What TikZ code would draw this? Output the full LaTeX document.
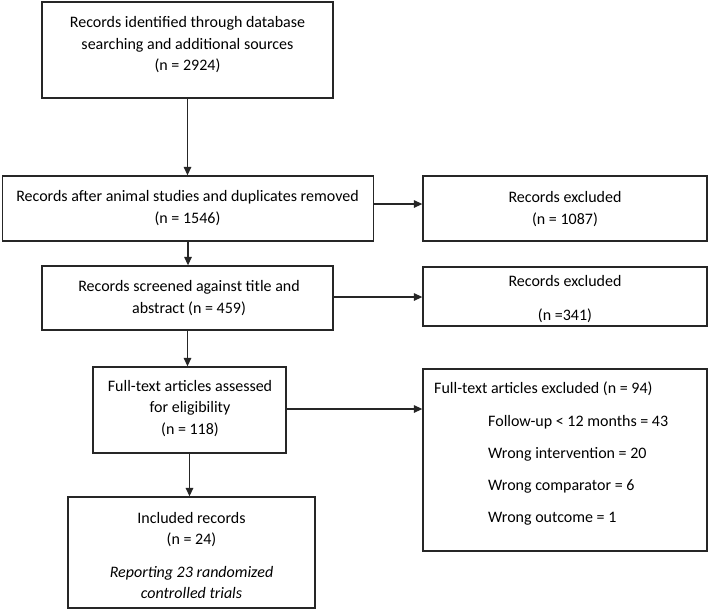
\documentclass[tikz,border=0pt]{standalone}
\usepackage{fontspec}
\setmainfont{Carlito}
\usetikzlibrary{arrows.meta}
\begin{document}
\begin{tikzpicture}[x=1pt,y=-1pt,
  box/.style={draw=black!85, line width=1.3pt, inner sep=0pt},
  txt/.style={align=center, font=\fontsize{16}{21.5}\selectfont, inner sep=0pt, text=black},
  ltxt/.style={align=left, font=\fontsize{16}{21.5}\selectfont, inner sep=0pt, text=black},
  arr/.style={draw=black!85, line width=1.3pt, -{Triangle[length=8.5pt,width=7.5pt]}}]
\fill[white] (0,0) rectangle (709,611);
\useasboundingbox (0,0) rectangle (709,611);

% boxes
\node[box, minimum width=291pt, minimum height=96pt] (b1) at (187.5,50) {};
\node[box, minimum width=371pt, minimum height=65pt] (b2) at (188,208.5) {};
\node[box, minimum width=284pt, minimum height=65pt] (r1) at (565,208.5) {};
\node[box, minimum width=291pt, minimum height=64pt] (b3) at (187.5,298) {};
\node[box, minimum width=284pt, minimum height=59pt] (r2) at (565,296.5) {};
\node[box, minimum width=193pt, minimum height=86pt] (b4) at (189.5,410) {};
\node[box, minimum width=284pt, minimum height=182pt] (r3) at (565,460) {};
\node[box, minimum width=247pt, minimum height=111pt] (b5) at (191.5,552.5) {};

% texts
\node[txt] (t1) at (187.5,45) {Records identified through database\\searching and additional sources\\(n = 2924)};
\node[txt] (t2) at (187.5,208) {Records after animal studies and duplicates removed\\(n = 1546)};
\node[txt] (t3) at (565,209) {Records excluded\\(n = 1087)};
\node[txt] (t4) at (189,298) {Records screened against title and\\abstract (n = 459)};
\node[txt] (t5) at (565,299) {Records excluded\\[12.5pt](n =341)};
\node[txt] (t6) at (190,408.5) {Full-text articles assessed\\for eligibility\\(n = 118)};
\node[ltxt, anchor=west] (t7) at (434,389) {Full-text articles excluded (n = 94)};
\node[ltxt, anchor=west] (t8) at (488,470.5) {Follow-up {<} 12 months = 43\\[10.5pt]Wrong intervention = 20\\[10.5pt]Wrong comparator = 6\\[10.5pt]Wrong outcome = 1};
\node[txt] (t9) at (191.5,555.5) {Included records\\(n = 24)\\[11pt]\textit{Reporting 23 randomized}\\\textit{controlled trials}};

% connectors
\draw[arr] (b1.south) -- (b1.south |- b2.north);
\draw[arr] (b2.south) -- (b2.south |- b3.north);
\draw[arr] (b3.south) -- (b3.south |- b4.north);
\draw[arr] (b4.south) -- (b4.south |- b5.north);
\draw[arr] ([yshift=4.5pt]b2.east) -- ([yshift=4.5pt]b2.east -| r1.west);
\draw[arr] ([yshift=1pt]b3.east) -- ([yshift=1pt]b3.east -| r2.west);
\draw[arr] ([yshift=1pt]b4.east) -- ([yshift=1pt]b4.east -| r3.west);
\end{tikzpicture}
\end{document}
